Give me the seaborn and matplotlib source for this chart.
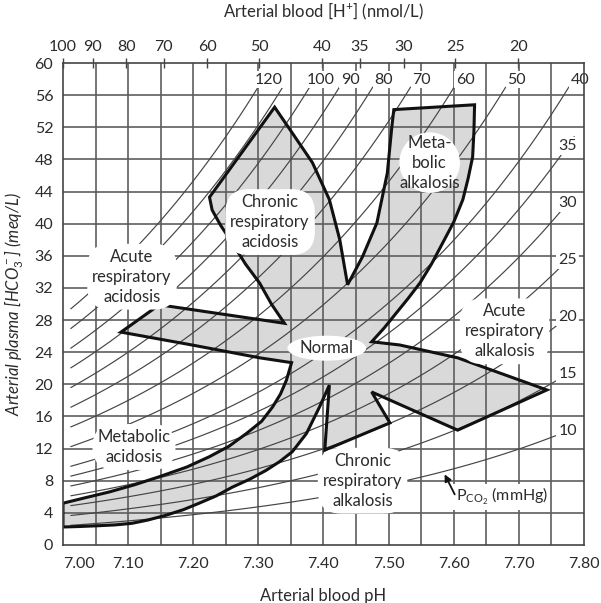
import numpy as np
import pandas as pd
import matplotlib
matplotlib.use("Agg")
import matplotlib.pyplot as plt
import seaborn as sns

# ---------------- data ----------------
ph_ticks = [7.00, 7.10, 7.20, 7.30, 7.40, 7.50, 7.60, 7.70, 7.80]
ph_tick_labels = ["7.00", "7.10", "7.20", "7.30", "7.40", "7.50", "7.60", "7.70", "7.80"]
hco3_ticks = [0, 4, 8, 12, 16, 20, 24, 28, 32, 36, 40, 44, 48, 52, 56, 60]
h_ticks = [100, 90, 80, 70, 60, 50, 40, 35, 30, 25, 20]
grid_ph = [7.05, 7.10, 7.15, 7.20, 7.25, 7.30, 7.35, 7.40, 7.45, 7.50,
           7.55, 7.60, 7.65, 7.70, 7.75]

pco2_values = [120, 110, 100, 90, 80, 70, 60, 50, 40, 35, 30, 25, 20, 15, 10]
pco2_top_labels = [120, 100, 90, 80, 70, 60, 50, 40]
pco2_right_labels = [35, 30, 25, 20, 15, 10]

# outline of the shaded band (pH, HCO3-)
outline_ph = [7.325, 7.352, 7.383, 7.409, 7.425, 7.437,
              7.460, 7.482, 7.498, 7.505, 7.508,
              7.632, 7.631, 7.629, 7.622, 7.614, 7.600, 7.583, 7.566, 7.548, 7.530, 7.512, 7.493, 7.474,
              7.517, 7.606, 7.743,
              7.606, 7.474, 7.502, 7.402, 7.409,
              7.394, 7.374, 7.352, 7.333, 7.312, 7.287, 7.260, 7.235, 7.209, 7.185, 7.158,
              7.130, 7.106, 7.080, 7.055, 7.025, 7.000,
              7.000,
              7.035, 7.071, 7.110, 7.148, 7.190, 7.225, 7.255, 7.282, 7.305, 7.322, 7.334,
              7.343, 7.351,
              7.302, 7.198, 7.089,
              7.148, 7.340,
              7.320, 7.302, 7.280, 7.260, 7.242, 7.229, 7.225]
outline_hco3 = [54.5, 51.3, 47.6, 43.0, 38.0, 32.4,
                35.9, 40.1, 46.3, 52.1, 54.2,
                54.8, 51.5, 48.3, 45.6, 43.0, 40.2, 37.6, 35.0, 32.6, 30.7, 28.9, 27.0, 25.3,
                24.9, 23.3, 19.3,
                14.3, 19.05, 15.2, 11.8, 19.9,
                17.2, 13.9, 11.6, 10.4, 9.3, 8.2, 7.2, 6.1, 5.2, 4.4, 3.7,
                3.1, 2.7, 2.5, 2.4, 2.3, 2.24,
                5.2,
                5.9, 6.6, 7.5, 8.5, 9.7, 11.0, 12.3, 13.9, 15.4, 17.2, 18.8,
                20.5, 22.7,
                23.3, 24.9, 26.5,
                29.9, 27.6,
                30.0, 32.6, 35.0, 37.6, 39.8, 41.7, 43.3]

region_names = ["Chronic\nrespiratory\nacidosis", "Meta-\nbolic\nalkalosis",
                "Acute\nrespiratory\nacidosis", "Normal",
                "Acute\nrespiratory\nalkalosis", "Metabolic\nacidosis",
                "Chronic\nrespiratory\nalkalosis"]
region_ph = [7.318, 7.563, 7.106, 7.405, 7.678, 7.109, 7.460]
region_hco3 = [40.2, 47.6, 33.4, 24.5, 26.6, 12.2, 8.0]


def hco3_from(ph, pco2):
    # Henderson-Hasselbalch isopleth
    return 0.03 * pco2 * 10 ** (ph - 6.1)


def ph_from(hco3, pco2):
    return 6.1 + np.log10(hco3 / (0.03 * pco2))


# ---------------- style ----------------
sns.set_theme(style="white")
plt.rcParams["font.family"] = ["Lato", "DejaVu Sans"]
plt.rcParams["mathtext.fontset"] = "custom"
plt.rcParams["mathtext.rm"] = "Lato"
plt.rcParams["mathtext.it"] = "Lato:italic"
plt.rcParams["mathtext.bf"] = "Lato:bold"

TXT = "#2b2b2b"
GRID = "#5e5e5e"

fig = plt.figure(figsize=(6.01, 6.03), dpi=100)
ax = fig.add_axes([0.1048, 0.0962, 0.8669, 0.7993])
ax.set_xlim(7.0, 7.8)
ax.set_ylim(0, 60)
ax.set_xticks(ph_ticks)
ax.set_xticklabels(ph_tick_labels)
ax.set_yticks(hco3_ticks)

# shaded band
ax.fill(outline_ph, outline_hco3, facecolor="#d9d9d9", edgecolor="none", zorder=0.2)

# grid drawn explicitly above the fill
for g in grid_ph:
    ax.axvline(g, color=GRID, lw=1.2, zorder=1)
for g in hco3_ticks[1:-1]:
    ax.axhline(g, color=GRID, lw=1.2, zorder=1)

# isopleths
rows = []
for p in pco2_values:
    end = min(7.785, ph_from(57.0, p))
    xs = np.linspace(7.012, end, 80)
    for x in xs:
        rows.append({"pco2": p, "pH": x, "HCO3": hco3_from(x, p)})
iso = pd.DataFrame(rows)
sns.lineplot(data=iso, x="pH", y="HCO3", units="pco2", estimator=None, sort=False,
             color="#454545", lw=0.85, legend=False, ax=ax, zorder=1.5)

# outline
ax.fill(outline_ph, outline_hco3, facecolor="none", edgecolor="#111111", lw=2.2,
        joinstyle="miter", zorder=3)

# region labels
for name, x, y in zip(region_names, region_ph, region_hco3):
    if name == "Normal":
        bs = "ellipse,pad=0.05"
    elif name.startswith("Meta-"):
        bs = "circle,pad=0.0"
    else:
        bs = "round,pad=0.3,rounding_size=1.4"
    ax.text(x, y, name, ha="center", va="center", fontsize=12, color=TXT,
            linespacing=1.3, zorder=4,
            bbox=dict(boxstyle=bs, fc="white", ec="none"))

# isopleth labels
for p in pco2_top_labels:
    ax.text(ph_from(57.9, p) + 0.01, 57.9, str(p), ha="center", va="center",
            fontsize=11.5, color=TXT, zorder=4,
            bbox=dict(boxstyle="square,pad=0.1", fc="white", ec="none"))
for p in pco2_right_labels:
    ax.text(7.775, hco3_from(7.775, p), str(p), ha="center", va="center",
            fontsize=11.5, color=TXT, zorder=4,
            bbox=dict(boxstyle="square,pad=0.15", fc="white", ec="none"))

# PCO2 annotation
ax.text(7.603, 6.0, "P$_{\\mathregular{CO_2}}$ (mmHg)", ha="left", va="center",
        fontsize=11.5, color=TXT, zorder=4,
        bbox=dict(boxstyle="square,pad=0.15", fc="white", ec="none"))
ax.annotate("", xy=(7.586, 8.8), xytext=(7.6015, 6.3),
            arrowprops=dict(arrowstyle="-|>", color="#111111", lw=1.3,
                            mutation_scale=10, shrinkA=0, shrinkB=0), zorder=5)

# axes styling
for s in ax.spines.values():
    s.set_color("#444444")
    s.set_linewidth(1.2)
    s.set_zorder(6)
ax.tick_params(axis="both", which="both", length=0, labelsize=11.5, colors=TXT)
ax.tick_params(axis="x", pad=9)
ax.tick_params(axis="y", pad=7)
ax.get_xticklabels()[0].set_ha("left")
ax.set_xlabel("Arterial blood pH", fontsize=12, color=TXT, labelpad=12)
ax.set_ylabel("Arterial plasma [$HCO_3^-$] (meq/L)", fontsize=12, color=TXT,
              fontstyle="italic", labelpad=6)

# top axis: [H+]
sec = ax.secondary_xaxis("top", functions=(lambda ph: 10 ** (9 - ph),
                                           lambda h: 9 - np.log10(h)))
sec.set_xticks(h_ticks)
sec.set_xticklabels([str(h) for h in h_ticks])
sec.tick_params(axis="x", direction="inout", length=7, width=1, color="#444444",
                labelsize=11.5, colors=TXT, pad=3)
sec.set_xlabel("Arterial blood [H$^{+}$] (nmol/L)", fontsize=12, color=TXT, labelpad=16)
sec.spines["top"].set_visible(False)

fig.savefig("out.png", dpi=100)
